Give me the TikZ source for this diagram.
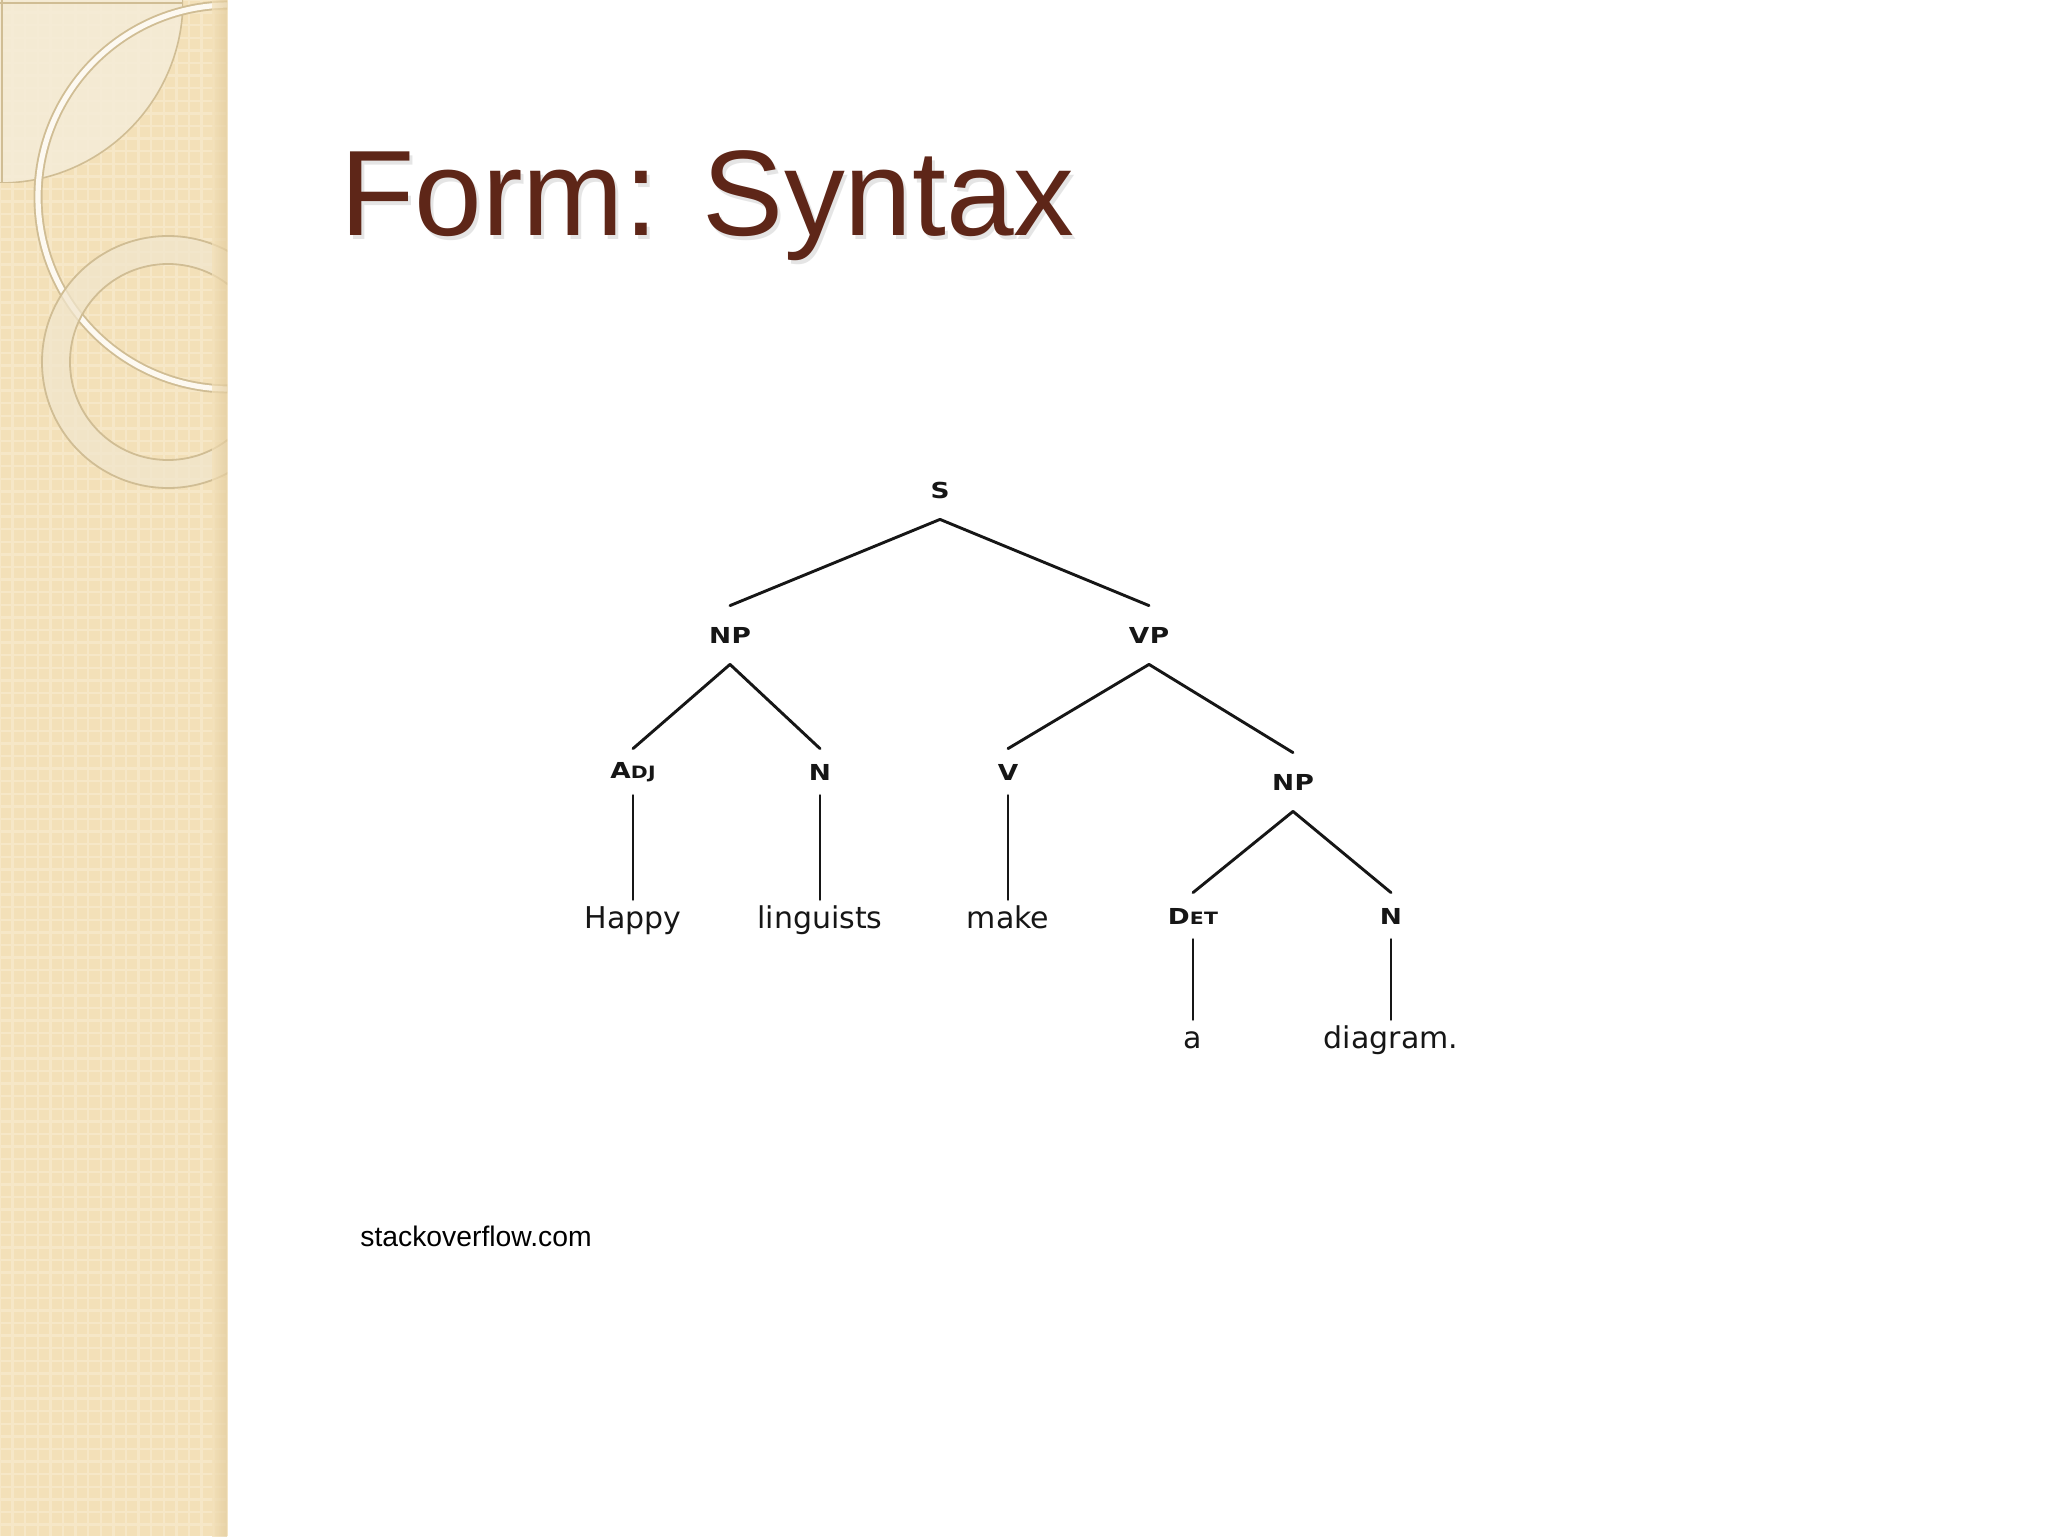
\documentclass[tikz,border=0pt]{standalone}
\usepackage{fontspec}
\usepackage{graphicx}
\setmainfont{Liberation Sans}
\newfontfamily\treefont{DejaVu Sans}
\newfontfamily\catfont[LetterSpace=2]{DejaVu Sans Bold}

\definecolor{titlebrown}{RGB}{94,38,24}
\definecolor{panel}{RGB}{243,224,184}
\definecolor{panellight}{RGB}{246,231,199}
\definecolor{paneldark}{RGB}{226,203,156}
\definecolor{ringline}{RGB}{208,189,148}
\definecolor{ringfill}{RGB}{241,230,205}
\definecolor{cornerfill}{RGB}{245,236,216}
\definecolor{treeline}{RGB}{22,22,22}

\newcommand{\catlab}[2]{\scalebox{1.2}[1]{\catfont\fontsize{11}{13}\selectfont #1{\fontsize{8.5}{10}\selectfont #2}}}

\begin{document}
\begin{tikzpicture}[x=0.5pt,y=-0.5pt,
  cat/.style={inner sep=0pt, minimum height=29pt, text=treeline},
  catlow/.style={inner sep=0pt, minimum height=23pt, text=treeline},
  word/.style={inner sep=0pt, anchor=base, text height=14pt, text depth=0pt,
               font=\treefont\fontsize{15}{18}\selectfont, text=treeline},
  branch/.style={draw=treeline, line width=1.45pt, line cap=round}]

% page
\fill[white] (0,0) rectangle (2048,1536);
\useasboundingbox (0,0) rectangle (2048,1536);

% left decorative panel
\fill[panel] (0,0) rectangle (227,1536);
\draw[panellight, line width=1.2pt, step=6.3pt] (0,0) grid (227,1536);

\begin{scope}
  \clip (0,0) rectangle (227,1536);
  % top-left lighter quarter
  \begin{scope}
    \clip (0,0) rectangle (183,182);
    \fill[cornerfill, fill opacity=0.85] (0,0) circle[radius=91.5pt];
    \draw[ringline, line width=0.8pt] (0,0) circle[radius=91.5pt];
  \end{scope}
  \draw[ringline, line width=0.8pt] (0,3) -- (183,3);
  \draw[ringline, line width=0.8pt] (2,0) -- (2,182);
  % big thin ring
  \draw[ringline, line width=4.5pt] (230,197) circle[radius=96pt];
  \draw[white!80!panel, line width=2.6pt] (230,197) circle[radius=96pt];
  % thick ring
  \fill[ringfill, fill opacity=0.75, even odd rule]
    (168,362) circle[radius=63pt] (168,362) circle[radius=49pt];
  \draw[ringline, line width=0.9pt] (168,362) circle[radius=63pt];
  \draw[ringline, line width=0.9pt] (168,362) circle[radius=49pt];
  % edge shadow
  \shade[left color=panel, right color=paneldark, fill opacity=0.7] (212,0) rectangle (227,1536);
\end{scope}

% title
\node[anchor=base west, inner sep=0pt, text=black!40, opacity=0.25,
      font=\fontsize{60.8}{70}\selectfont] (titleshadow) at (343,239) {Form: Syntax};
\node[anchor=base west, inner sep=0pt, text=titlebrown,
      font=\fontsize{60.8}{70}\selectfont] (title) at (340,235) {Form: Syntax};

% source
\node[anchor=base west, inner sep=0pt, font=\fontsize{14.15}{17}\selectfont] (src) at (360,1246) {stackoverflow.com};

% tree labels
\node[cat] (S) at (940,490) {\catlab{S}{}};
\node[cat] (NP) at (730,635) {\catlab{NP}{}};
\node[cat] (VP) at (1149,635) {\catlab{VP}{}};
\node[catlow] (ADJ) at (633,772) {\catlab{A}{DJ}};
\node[catlow] (N1) at (820,772) {\catlab{N}{}};
\node[catlow] (V) at (1008,772) {\catlab{V}{}};
\node[cat] (NP2) at (1293,782) {\catlab{NP}{}};
\node[catlow] (DET) at (1193,916) {\catlab{D}{ET}};
\node[catlow] (N2) at (1391,916) {\catlab{N}{}};

% words
\node[word] (happy) at (633,928) {Happy};
\node[word] (ling) at (820,928) {linguists};
\node[word] (make) at (1008,928) {make};
\node[word] (a) at (1193,1048) {a};
\node[word] (diag) at (1391,1048) {diagram.};

% branches
\draw[branch] (S.south) -- (NP.north);
\draw[branch] (S.south) -- (VP.north);
\draw[branch] (NP.south) -- (ADJ.north);
\draw[branch] (NP.south) -- (N1.north);
\draw[branch] (VP.south) -- (V.north);
\draw[branch] (VP.south) -- (NP2.north);
\draw[branch] (NP2.south) -- (DET.north);
\draw[branch] (NP2.south) -- (N2.north);
\draw[branch] (ADJ.south) -- (happy.north);
\draw[branch] (N1.south) -- (ling.north);
\draw[branch] (V.south) -- (make.north);
\draw[branch] (DET.south) -- (a.north);
\draw[branch] (N2.south) -- (diag.north);
\end{tikzpicture}
\end{document}
